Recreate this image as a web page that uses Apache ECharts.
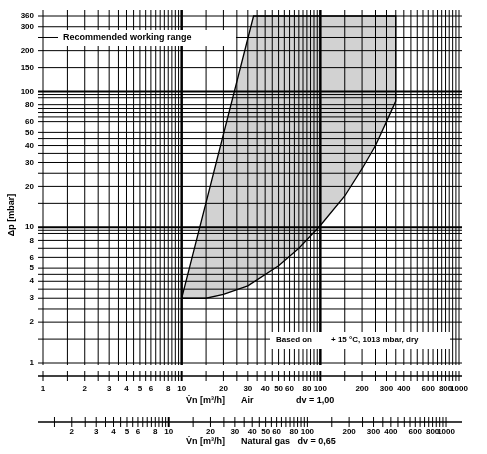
<!DOCTYPE html><html><head><meta charset="utf-8">
<script src="https://cdn.jsdelivr.net/npm/echarts@6/dist/echarts.min.js"></script>
<style>body{margin:0}#c{width:487px;height:454px}</style></head><body><div id="c"></div><script>
const yGrid=[1,1.5,2,2.5,3,3.5,4,4.5,5,6,7,8,9,9.5,10,15,20,25,30,35,40,45,50,60,65,70,75,80,90,95,100,150,200,250,300,360];
const yLabels=[1,2,3,4,5,6,8,10,20,30,40,50,60,80,100,150,200,300,360];
const xGrid=[1,1.5,2,2.5,3,3.5,4,4.5,5,5.5,6,6.5,7,7.5,8,8.5,9,9.5,10,15,20,25,30,35,40,45,50,55,60,65,70,75,80,85,90,95,100,150,200,250,300,350,400,450,500,550,600,650,700,750,800,850,900,950,1000];
const airLabels=[1,2,3,4,5,6,8,10,20,30,40,50,60,80,100,200,300,400,600,800,1000];
const gasTicks=[1.5,2,2.5,3,3.5,4,4.5,5,5.5,6,6.5,7,7.5,8,8.5,9,9.5,10,15,20,25,30,35,40,45,50,55,60,65,70,75,80,85,90,95,100,150,200,250,300,350,400,450,500,550,600,650,700,750,800,850,900,950,1000];
const gasLabels=[2,3,4,5,6,8,10,20,30,40,50,60,80,100,200,300,400,600,800,1000];
const gasFactor=1.24;
// working range boundary (air flow, Δp)
const lowerX=[10,15,20,30,50,70,100,150,200,250,300,350];
const lowerY=[3,3,3.2,3.7,5.2,7,10.3,17,27,40,60,85];
const topLeft=[33,360];
const topRight=[350,360];
const poly=[topLeft,topRight];
for(let i=lowerX.length-1;i>=0;i--)poly.push([lowerX[i],lowerY[i]]);
const ch=echarts.init(document.getElementById('c'));
const F='Liberation Sans, Arial, sans-serif';
ch.setOption({animation:false,
grid:{left:43,right:28,top:16,bottom:91},
xAxis:{type:'log',min:1,max:1000,axisLabel:{show:false},axisTick:{show:false},splitLine:{show:false},axisLine:{show:false}},
yAxis:{type:'log',min:1,max:360,axisLabel:{show:false},axisTick:{show:false},splitLine:{show:false},axisLine:{show:false}},
series:[{type:'custom',data:[0],z:1,renderItem:(p,api)=>({type:'polygon',shape:{points:poly.map(q=>api.coord(q))},style:{fill:'#d2d2d2',stroke:'#000',lineWidth:1.3}})}]});
const g=[];const px=v=>ch.convertToPixel({xAxisIndex:0},v);const py=v=>ch.convertToPixel({yAxisIndex:0},v);
const yTop=py(360)-6,yBot=py(1)+2,L=px(1)-5,R=px(1000)+3;
xGrid.forEach(v=>{const x=px(v);const w=(v==10||v==100)?2.5:1;g.push({type:'line',z:10,shape:{x1:x,y1:yTop,x2:x,y2:yBot},style:{stroke:'#000',lineWidth:w}})});
yGrid.forEach(v=>{const y=py(v);g.push({type:'line',z:10,shape:{x1:L,y1:y,x2:R,y2:y},style:{stroke:'#000',lineWidth:v==100||v==10?1.8:1}})});
yLabels.forEach(v=>{g.push({type:'text',z:12,style:{text:String(v),x:L-4,y:py(v),align:'right',verticalAlign:'middle',font:'bold 8px '+F,fill:'#000'}})});
const ay=376;g.push({type:'line',z:10,shape:{x1:L,y1:ay,x2:R,y2:ay},style:{stroke:'#000',lineWidth:1.5}});
xGrid.forEach(v=>g.push({type:'line',z:10,shape:{x1:px(v),y1:ay-5,x2:px(v),y2:ay+5},style:{stroke:'#000',lineWidth:(v==10||v==100)?2:1}}));
airLabels.forEach(v=>g.push({type:'text',z:12,style:{text:String(v),x:px(v),y:389,align:'center',verticalAlign:'middle',font:'bold 8px '+F,fill:'#000'}}));
const gy=422;g.push({type:'line',z:10,shape:{x1:L,y1:gy,x2:R,y2:gy},style:{stroke:'#000',lineWidth:1.5}});
gasTicks.forEach(v=>{const x=px(v/gasFactor);g.push({type:'line',z:10,shape:{x1:x,y1:gy-5,x2:x,y2:gy+5},style:{stroke:'#000',lineWidth:(v==10)?2:1}})});
gasLabels.forEach(v=>g.push({type:'text',z:12,style:{text:String(v),x:px(v/gasFactor),y:432,align:'center',verticalAlign:'middle',font:'bold 8px '+F,fill:'#000'}}));
const T=(t,x,y,sz)=>g.push({type:'text',z:20,style:{text:t,x:x,y:y,font:'bold '+(sz||9)+'px '+F,fill:'#000',verticalAlign:'middle'}});
T('V̇n [m³/h]',186,401);T('Air',241,401);T('dv = 1,00',296,401);
T('V̇n [m³/h]',186,442);T('Natural gas   dv = 0,65',241,442);
g.push({type:'text',z:20,rotation:Math.PI/2,x:12,y:215,style:{text:'Δp [mbar]',font:'bold 9px '+F,fill:'#000',align:'center',verticalAlign:'middle'}});
g.push({type:'rect',z:15,shape:{x:58,y:30,width:178,height:16},style:{fill:'#fff'}});
T('Recommended working range',63,38);
g.push({type:'rect',z:15,shape:{x:270,y:332,width:180,height:17},style:{fill:'#fff'}});
T('Based on',276,340,8);
T('+ 15 °C, 1013 mbar, dry',331,340,8);
ch.setOption({graphic:g});
</script></body></html>
